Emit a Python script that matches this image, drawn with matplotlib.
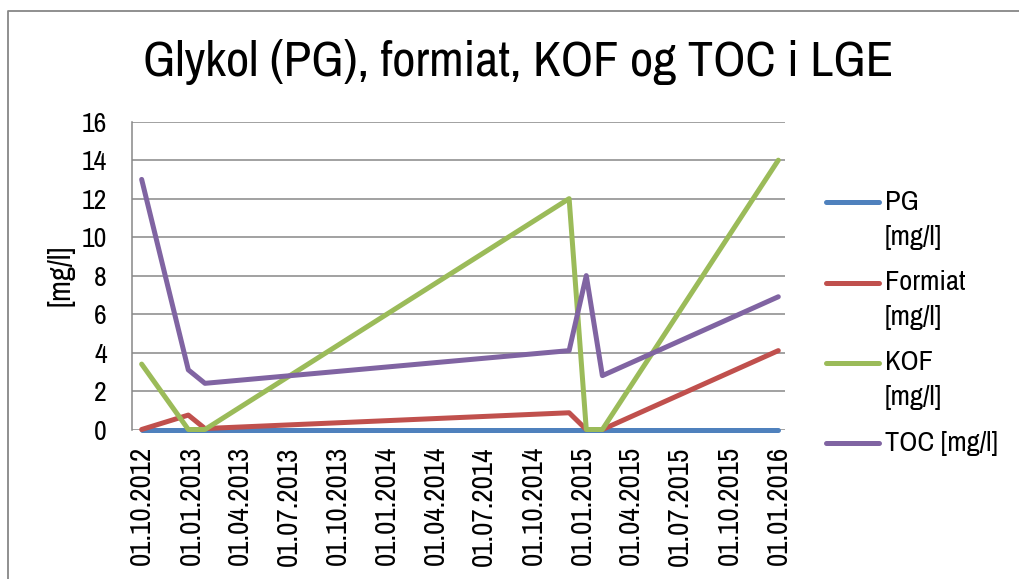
import datetime
import matplotlib
matplotlib.use("Agg")
import matplotlib.pyplot as plt
import matplotlib.dates as mdates
from matplotlib.lines import Line2D

# sample dates and measured concentrations [mg/l]
dates = ["2012-10-01", "2012-12-27", "2013-01-27", "2014-12-07",
         "2015-01-08", "2015-02-07", "2016-01-01"]
pg = [0, 0, 0, 0, 0, 0, 0]
formiat = [0, 0.75, 0.05, 0.87, 0, 0, 4.1]
kof = [3.4, 0, 0, 12, 0, 0, 14]
toc = [13, 3.1, 2.4, 4.1, 8, 2.8, 6.9]

series_names = ["PG\n[mg/l]", "Formiat\n[mg/l]", "KOF\n[mg/l]", "TOC [mg/l]"]
colors = ["#4F81BD", "#C0504D", "#9BBB59", "#8064A2"]
tick_dates = ["2012-10-01", "2013-01-01", "2013-04-01", "2013-07-01",
              "2013-10-01", "2014-01-01", "2014-04-01", "2014-07-01",
              "2014-10-01", "2015-01-01", "2015-04-01", "2015-07-01",
              "2015-10-01", "2016-01-01"]

FONT = ["Archivo Narrow", "Liberation Sans", "DejaVu Sans"]
plt.rcParams['font.family'] = FONT
GRID = "#878787"

W, H = 1019, 579
fig = plt.figure(figsize=(W / 100, H / 100), dpi=100)
ax = fig.add_axes([132 / W, 1 - 429.5 / H, (785 - 132) / W, (429.5 - 121.7) / H])

x = [datetime.datetime.strptime(d, "%Y-%m-%d") for d in dates]
for vals, col in zip([pg, formiat, kof, toc], colors):
    ax.plot(x, vals, color=col, lw=3.6, solid_capstyle="round",
            solid_joinstyle="round", clip_on=False)

ax.set_ylim(0, 16)
ax.set_yticks(range(0, 17, 2))
ax.set_xlim(x[0] - datetime.timedelta(days=18), x[-1] + datetime.timedelta(days=12.5))
ticks = [datetime.datetime.strptime(d, "%Y-%m-%d") for d in tick_dates]
ax.set_xticks(ticks)
ax.xaxis.set_major_formatter(mdates.DateFormatter("%d.%m.%Y"))

ax.grid(axis="y", color=GRID, lw=1.1)
ax.set_axisbelow(True)
for s in ["top", "right", "bottom"]:
    ax.spines[s].set_visible(False)
ax.spines["left"].set_color(GRID)
ax.spines["left"].set_linewidth(1.1)
ax.tick_params(axis="both", length=0)
ax.tick_params(axis="y", labelsize=20, pad=18)
ax.tick_params(axis="x", labelsize=21, pad=12, labelrotation=90)
ax.set_ylabel("[mg/l]", fontsize=22, labelpad=5)

fig.text(518 / W, 1 - 62 / H, "Glykol (PG), formiat, KOF og TOC i LGE",
         fontsize=36.5, ha="center", va="center")

# legend drawn in figure pixels, handle beside the first text line
first_rows = [202, 283, 363, 443]
for name, col, yc in zip(series_names, colors, first_rows):
    yf = 1 - yc / H
    fig.add_artist(Line2D([826 / W, 879 / W], [yf, yf], color=col, lw=3.6,
                          solid_capstyle="round", transform=fig.transFigure))
    for i, part in enumerate(name.split("\n")):
        fig.text(885 / W, 1 - (yc + 35 * i) / H, part, fontsize=20.5,
                 ha="left", va="center")

# chart area border
fig.add_artist(Line2D([8 / W, 8 / W, 1.0], [0.0, 1 - 10.5 / H, 1 - 10.5 / H],
                      color=GRID, lw=1.3, transform=fig.transFigure))

fig.savefig("out.png", dpi=100)
